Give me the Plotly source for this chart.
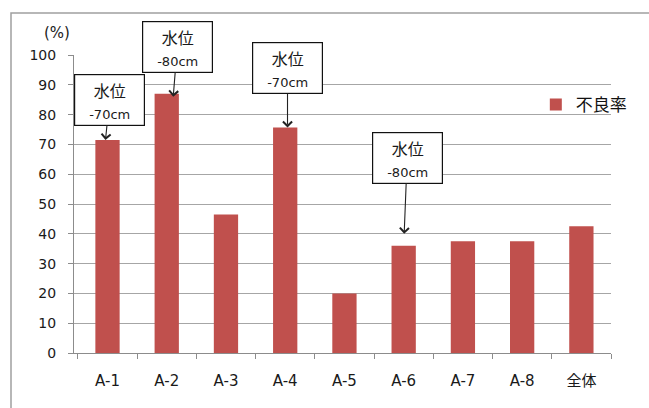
import plotly.graph_objects as go

# Defect rate per plot section
categories = ["A-1", "A-2", "A-3", "A-4", "A-5", "A-6", "A-7", "A-8", "全体"]
defect_rate = [71.5, 87.0, 46.5, 75.7, 20.0, 36.0, 37.5, 37.5, 42.5]
series_name = "不良率"

# Water-level callouts: category, arrow tip value, label
callout_cats = ["A-1", "A-2", "A-4", "A-6"]
callout_tips = [71.5, 86.0, 75.7, 40.0]
callout_levels = ["-70cm", "-80cm", "-70cm", "-80cm"]

# pixel placement of each callout box relative to its arrow tip
callout_xshift = [-2, 6.5, 2.3, 0.5]
callout_ax = [4, 4, 0, 3]
callout_ay = [-40, -50, -59, -76]

y_ticks = [0, 10, 20, 30, 40, 50, 60, 70, 80, 90, 100]

FONT = "DejaVu Sans, Noto Sans CJK JP"
CJK = "Noto Sans CJK JP"
GRID = "#a6a6a6"
AXIS = "#8c8c8c"
TEXT = "#1a1a1a"

fig = go.Figure()
fig.add_trace(go.Bar(
    x=categories, y=defect_rate, name=series_name,
    marker=dict(color="#C0504D", line=dict(width=0)),
    width=0.41, showlegend=True,
))

for cat, tip, level, xs, ax, ay in zip(callout_cats, callout_tips, callout_levels,
                                        callout_xshift, callout_ax, callout_ay):
    fig.add_annotation(
        x=cat, y=tip, xref="x", yref="y", xshift=xs,
        text=(f'<span style="font-size:16px;font-family:{CJK}">水位</span><br>'
              f'<span style="font-size:13px">{level}</span>'),
        font=dict(family=FONT, size=17, color=TEXT),
        showarrow=True, arrowhead=4, arrowsize=1.6, arrowwidth=1.1,
        arrowcolor="#222", ax=ax, ay=ay, standoff=0,
        bgcolor="white", bordercolor="#111", borderwidth=1.2, borderpad=0,
        width=69, height=50, align="center", valign="middle",
    )

# unit label above the value axis
fig.add_annotation(
    xref="paper", yref="paper", x=(56.5 - 74) / 537, y=(353 - 33) / 298,
    xanchor="center", yanchor="middle", text="(%)", showarrow=False,
    font=dict(family=FONT, size=15, color=TEXT),
)

# outer chart frame
fig.add_shape(type="rect", xref="paper", yref="paper",
              x0=(11 - 74) / 537, x1=1.3, y0=-0.3, y1=(353 - 13) / 298,
              line=dict(color="#a0a0a0", width=1.5), fillcolor="rgba(0,0,0,0)", layer="below")

fig.update_layout(
    width=649, height=408,
    margin=dict(l=74, r=38, t=55, b=55),
    paper_bgcolor="white", plot_bgcolor="white",
    font=dict(family=FONT, size=14, color=TEXT),
    legend=dict(x=0.86, y=(353 - 105) / 298, yanchor="middle", xanchor="left",
                bgcolor="rgba(0,0,0,0)", font=dict(family=CJK, size=17, color="#111"),
                itemwidth=30),
    xaxis=dict(
        type="category", showline=True, linecolor=AXIS, linewidth=1,
        ticks="outside", ticklen=5, tickcolor=AXIS, tickson="boundaries",
        showgrid=False, ticklabelstandoff=14,
        tickfont=dict(family=FONT, size=15, color=TEXT),
    ),
    yaxis=dict(
        range=[0, 100], tickvals=y_ticks, showline=True, linecolor=AXIS, linewidth=1,
        ticks="outside", ticklen=5, tickcolor=AXIS,
        showgrid=True, gridcolor=GRID, gridwidth=1, zeroline=False,
        ticklabelstandoff=9,
        tickfont=dict(family=FONT, size=14, color=TEXT),
    ),
)

fig.write_html("out.html")
